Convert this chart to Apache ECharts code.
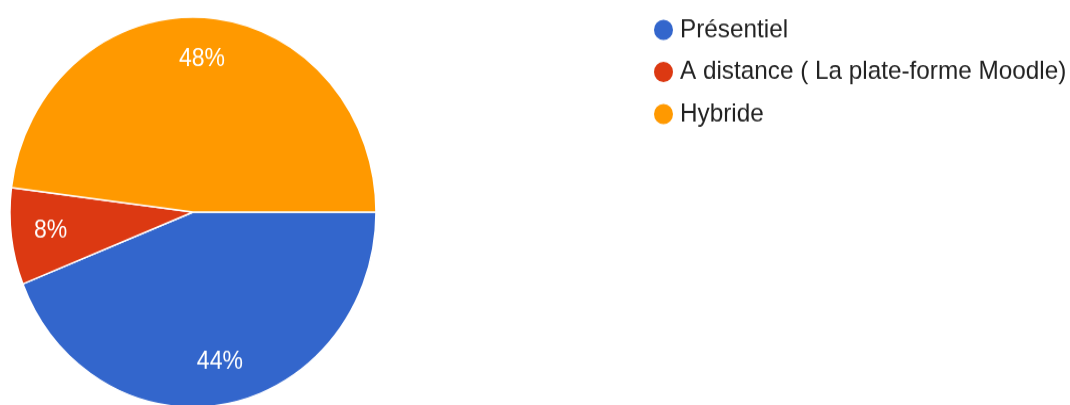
<!DOCTYPE html>
<html><head><meta charset="utf-8">
<script src="https://cdn.jsdelivr.net/npm/echarts@6/dist/echarts.min.js"></script>
<style>
html,body{margin:0;padding:0;background:#fff;overflow:hidden;}
#wrap{width:1070px;height:405px;overflow:hidden;}
#chart{width:1070px;height:380px;transform:scale(1,1.0658);transform-origin:0 0;}
</style></head>
<body><div id="wrap"><div id="chart"></div></div>
<script>
const categories = ['Présentiel', 'A distance ( La plate-forme Moodle)', 'Hybride'];
const values = [44, 8, 48];
const colors = ['#3366CC', '#DC3912', '#FF9900'];

const data = categories.map((c, i) => ({ name: c, value: values[i], itemStyle: { color: colors[i] } }));
const chart = echarts.init(document.getElementById('chart'));
chart.setOption({
  animation: false,
  legend: {
    orient: 'vertical', left: 647, top: 11,
    icon: 'circle', itemWidth: 21, itemHeight: 21, itemGap: 15.5,
    textStyle: { fontFamily: 'Liberation Sans, Arial, sans-serif', fontSize: 24.3, color: '#222', lineHeight: 24, padding: [0, 0, 0, 1] },
    data: categories
  },
  series: [
    {
      type: 'pie', center: [193, 199], radius: [0, 183], startAngle: 0, clockwise: true,
      silent: true, label: { show: false }, labelLine: { show: false },
      itemStyle: { borderColor: '#fff', borderWidth: 1.5 },
      data: data
    },
    {
      type: 'pie', center: [193, 199], radius: [98, 183], startAngle: 0, clockwise: true,
      silent: true, legendHoverLink: false,
      itemStyle: { color: 'rgba(0,0,0,0)' },
      label: { show: true, position: 'inside', formatter: '{d}%', color: '#fff', fontFamily: 'Liberation Sans, Arial, sans-serif', fontSize: 23 },
      labelLine: { show: false },
      data: categories.map((c, i) => ({ name: c, value: values[i] }))
    }
  ]
});
</script></body></html>
